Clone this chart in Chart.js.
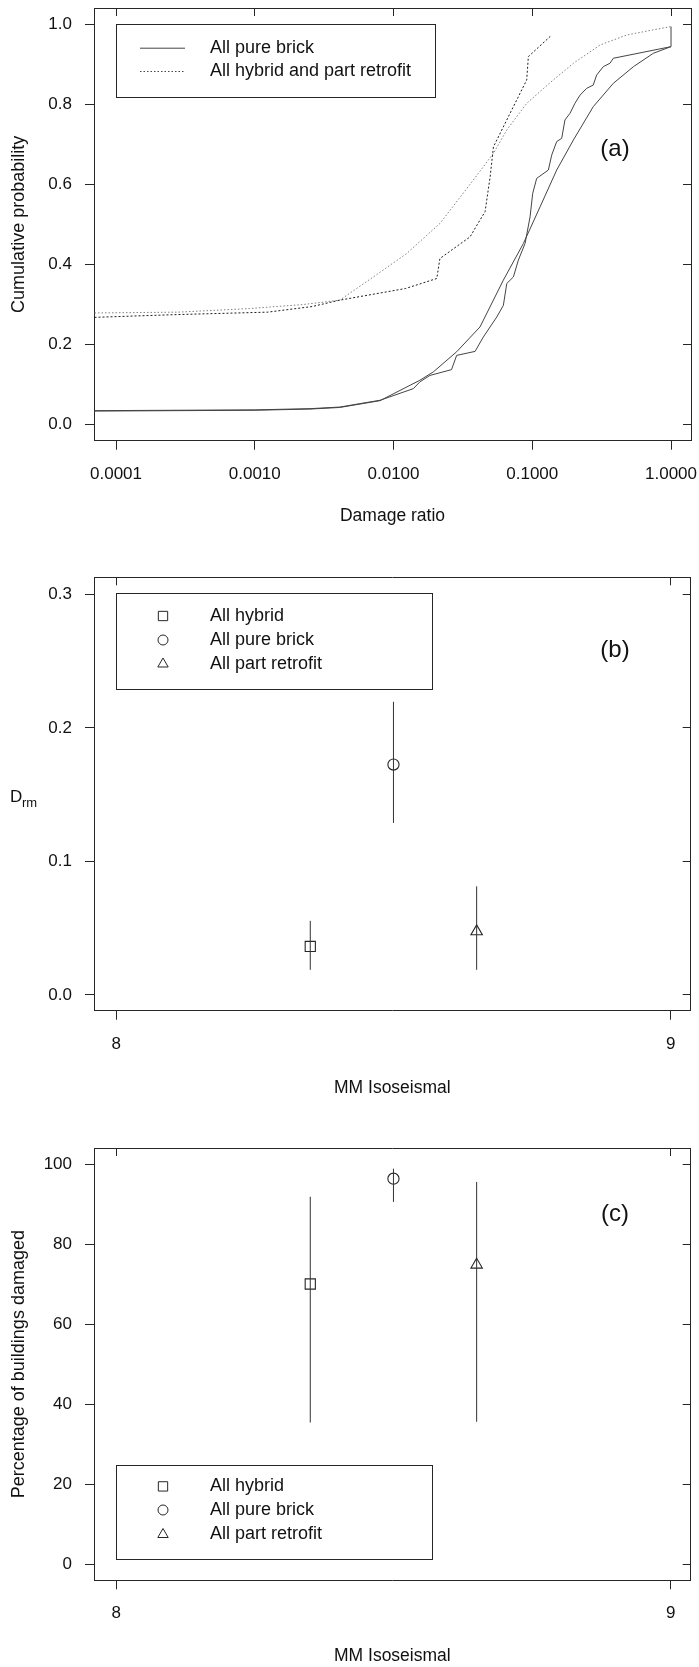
<!DOCTYPE html>
<html>
<head>
<meta charset="utf-8">
<script src="https://cdn.jsdelivr.net/npm/chart.js@4.4.1/dist/chart.umd.min.js"></script>
<style>
  html, body { margin: 0; padding: 0; background: #fff; }
  #page { position: relative; width: 699px; height: 1667px; overflow: hidden; }
  canvas { position: absolute; left: 0; }
</style>
</head>
<body>
<div id="page">
  <canvas id="panel-a" width="699" height="560" style="top:0;width:699px;height:560px"></canvas>
  <canvas id="panel-b" width="699" height="560" style="top:560px;width:699px;height:560px"></canvas>
  <canvas id="panel-c" width="699" height="547" style="top:1120px;width:699px;height:547px"></canvas>
</div>
<script>
// --- DATA: panel (a), cumulative distributions of damage ratio ---
const brickEmpX = [0.00007, 0.001, 0.0025, 0.0041, 0.008, 0.0139, 0.0155, 0.0183, 0.0262, 0.0285,
  0.0387, 0.0444, 0.0555, 0.0619, 0.0655, 0.0731, 0.0794, 0.0887, 0.0964, 0.1007, 0.1076, 0.1306,
  0.138, 0.150, 0.163, 0.172, 0.187, 0.203, 0.221, 0.247, 0.275, 0.291, 0.325, 0.363, 0.384, 1.0, 1.0];
const brickEmpY = [0.035, 0.037, 0.040, 0.044, 0.061, 0.090, 0.107, 0.123, 0.1375, 0.173,
  0.183, 0.219, 0.269, 0.298, 0.3525, 0.369, 0.411, 0.4525, 0.519, 0.5775, 0.615, 0.636,
  0.673, 0.707, 0.715, 0.761, 0.7775, 0.8025, 0.823, 0.840, 0.848, 0.873, 0.894, 0.9025, 0.915, 0.944, 0.994];

const brickFitX = [0.00007, 0.001, 0.0025, 0.0041, 0.008, 0.0155, 0.0194, 0.0285, 0.042, 0.0619,
  0.0863, 0.1138, 0.150, 0.198, 0.275, 0.384, 0.536, 0.746, 1.0];
const brickFitY = [0.034, 0.036, 0.039, 0.043, 0.060, 0.111, 0.132, 0.182, 0.244, 0.361,
  0.4525, 0.544, 0.636, 0.711, 0.794, 0.8525, 0.894, 0.9275, 0.944];

const hybridEmpX = [0.00007, 0.00028, 0.00124, 0.00259, 0.0041, 0.0122, 0.0205, 0.0216, 0.0356,
  0.042, 0.0457, 0.0497, 0.0525, 0.0912, 0.0937, 0.138];
const hybridEmpY = [0.268, 0.275, 0.281, 0.295, 0.311, 0.340, 0.365, 0.415, 0.469,
  0.511, 0.532, 0.619, 0.694, 0.861, 0.919, 0.973];

const hybridFitX = [0.00007, 0.00028, 0.00092, 0.00223, 0.0041, 0.00716, 0.01245, 0.0216, 0.0376,
  0.0525, 0.0655, 0.0912, 0.1419, 0.198, 0.3076, 0.4786, 0.746, 1.0];
const hybridFitY = [0.279, 0.281, 0.290, 0.300, 0.311, 0.369, 0.4275, 0.5025, 0.611,
  0.6775, 0.736, 0.8025, 0.861, 0.9025, 0.948, 0.973, 0.986, 0.994];

const damageTicks = [0.0001, 0.001, 0.01, 0.1, 1];
const probTicks = [0, 0.2, 0.4, 0.6, 0.8, 1.0];

// --- DATA: panels (b) and (c), by building group ---
const groups = ["All hybrid", "All pure brick", "All part retrofit"];
const mmX = [8.35, 8.5, 8.65];
const drm = [0.0363, 0.1725, 0.0475];
const drmLo = [0.0188, 0.1288, 0.0188];
const drmHi = [0.0555, 0.2195, 0.0813];
const pctDamaged = [70.1, 96.4, 74.9];
const pctLo = [35.5, 90.6, 35.7];
const pctHi = [91.9, 98.9, 95.6];

const mmTicks = [8, 9];
const drmTicks = [0, 0.1, 0.2, 0.3];
const pctTicks = [0, 20, 40, 60, 80, 100];

// --- STYLE ---
const INK = "#262626";
const TEXT = "#111";
const FONT = '"Liberation Sans", Arial, Helvetica, sans-serif';
Chart.defaults.font.family = FONT;
Chart.defaults.color = TEXT;

const markerStyles = ["rect", "circle", "triangle"];
const markerSizes = [7.2, 5.6, 6.6];

// --- AXIS HELPERS ---
function setTicks(list) {
  return (s) => { s.ticks = list.map((v) => ({ value: v })); };
}

function bottomAxis(type, min, max, ticks, fmt, title, titlePad, height) {
  return {
    type, position: "bottom", min, max,
    afterBuildTicks: setTicks(ticks),
    afterFit: (s) => { s.height = height; s.paddingLeft = 0; s.paddingRight = 0; },
    ticks: { autoSkip: false, maxRotation: 0, padding: 14, color: TEXT, font: { size: 17 }, callback: (v) => fmt(v) },
    grid: { drawOnChartArea: false, tickLength: 9, color: INK },
    border: { color: INK },
    title: { display: true, text: title, color: TEXT, font: { size: 17.5 }, padding: { top: 0, bottom: titlePad } },
  };
}

function leftAxis(min, max, ticks, fmt, title) {
  return {
    type: "linear", position: "left", min, max,
    afterBuildTicks: setTicks(ticks),
    afterFit: (s) => { s.width = 94; s.paddingTop = 0; s.paddingBottom = 0; },
    ticks: { autoSkip: false, padding: 13, color: TEXT, font: { size: 17 }, callback: (v) => fmt(v) },
    grid: { drawOnChartArea: false, tickLength: 9, color: INK },
    border: { color: INK },
    title: title
      ? { display: true, text: title, color: TEXT, font: { size: 18 }, padding: { top: 8, bottom: 0 } }
      : { display: false },
  };
}

// inward ticks on top and right, like the original frame
function topAxis(type, min, max, ticks) {
  return {
    type, axis: "x", position: "top", min, max,
    afterBuildTicks: setTicks(ticks),
    afterFit: (s) => { s.height = 0; s.paddingLeft = 0; s.paddingRight = 0; },
    ticks: { display: false },
    grid: { drawOnChartArea: false, tickLength: -8, color: INK },
    border: { color: INK },
  };
}

function rightAxis(min, max, ticks) {
  return {
    type: "linear", axis: "y", position: "right", min, max,
    afterBuildTicks: setTicks(ticks),
    afterFit: (s) => { s.width = 0; s.paddingTop = 0; s.paddingBottom = 0; },
    ticks: { display: false },
    grid: { drawOnChartArea: false, tickLength: -8, color: INK },
    border: { color: INK },
  };
}

// legend box, panel letter and odd labels drawn on top of the chart
function panelText(opts) {
  return {
    id: "panelText",
    afterDraw(chart) {
      const ctx = chart.ctx;
      ctx.save();
      const b = opts.legendBox;
      ctx.strokeStyle = INK;
      ctx.lineWidth = 1;
      ctx.setLineDash([]);
      ctx.strokeRect(Math.round(b.x1) + 0.5, Math.round(b.y1) + 0.5, Math.round(b.x2 - b.x1), Math.round(b.y2 - b.y1));
      ctx.font = "18px " + FONT;
      ctx.fillStyle = TEXT;
      ctx.textBaseline = "middle";
      ctx.textAlign = "left";
      opts.entries.forEach((e, i) => {
        const y = opts.entryY[i];
        if (e.marker) {
          ctx.strokeStyle = INK;
          ctx.fillStyle = "rgba(0,0,0,0)";
          ctx.lineWidth = 1;
          Chart.helpers.drawPoint(ctx, { pointStyle: e.marker, radius: e.size, rotation: 0, borderWidth: 1 }, opts.symbolX, y);
        } else {
          ctx.strokeStyle = e.color;
          ctx.lineWidth = 1;
          ctx.setLineDash(e.dash);
          ctx.beginPath();
          ctx.moveTo(opts.symbolX - 22, y + 0.5);
          ctx.lineTo(opts.symbolX + 23, y + 0.5);
          ctx.stroke();
          ctx.setLineDash([]);
        }
        ctx.fillStyle = TEXT;
        ctx.fillText(e.label, opts.textX, y);
      });
      ctx.font = "24px " + FONT;
      ctx.textAlign = "center";
      ctx.fillText(opts.letter, opts.letterX, opts.letterY);
      if (opts.drawYLabel) opts.drawYLabel(ctx);
      ctx.restore();
    },
  };
}

function xy(xs, ys) {
  return xs.map((x, i) => ({ x, y: ys[i] }));
}

function lineSet(label, xs, ys, color, dash) {
  return {
    label, data: xy(xs, ys), showLine: true, pointRadius: 0,
    borderColor: color, borderWidth: 1, borderDash: dash, tension: 0,
  };
}

// --- PANEL (a) ---
const fmt4 = (v) => Number(v).toFixed(4);
const fmt1 = (v) => Number(v).toFixed(1);

new Chart(document.getElementById("panel-a"), {
  type: "scatter",
  data: {
    datasets: [
      lineSet("All pure brick", brickEmpX, brickEmpY, "#444", []),
      lineSet("All pure brick (fit)", brickFitX, brickFitY, "#444", []),
      lineSet("All hybrid and part retrofit", hybridEmpX, hybridEmpY, "#1e1e1e", [2, 2]),
      lineSet("All hybrid and part retrofit (fit)", hybridFitX, hybridFitY, "#808080", [1.5, 2]),
    ],
  },
  options: {
    responsive: false, animation: false, devicePixelRatio: 1,
    layout: { padding: { top: 8, right: 8, bottom: 0, left: 0 } },
    plugins: { legend: { display: false }, tooltip: { enabled: false } },
    scales: {
      x: bottomAxis("logarithmic", 6.94e-5, 1.393, damageTicks, fmt4, "Damage ratio", 33, 119.3),
      y: leftAxis(-0.04, 1.0405, probTicks, fmt1, "Cumulative probability"),
      xTop: topAxis("logarithmic", 6.94e-5, 1.393, damageTicks),
      yRight: rightAxis(-0.04, 1.0405, probTicks),
    },
  },
  plugins: [panelText({
    legendBox: { x1: 116, y1: 24, x2: 435, y2: 97 },
    entries: [
      { label: "All pure brick", color: "#444", dash: [] },
      { label: "All hybrid and part retrofit", color: "#444", dash: [1.5, 2] },
    ],
    entryY: [47.7, 71],
    symbolX: 162, textX: 210,
    letter: "(a)", letterX: 615, letterY: 149,
  })],
});

// --- PANELS (b) and (c) ---
function groupDatasets(vals, lo, hi) {
  const sets = mmX.map((x, i) => ({
    label: groups[i] + " range",
    data: [{ x, y: lo[i] }, { x, y: hi[i] }],
    showLine: true, pointRadius: 0, borderColor: "#333", borderWidth: 1,
  }));
  sets.push({
    label: "groups",
    data: xy(mmX, vals),
    showLine: false,
    pointStyle: markerStyles,
    pointRadius: markerSizes,
    pointBorderColor: "#262626",
    pointBackgroundColor: "rgba(0,0,0,0)",
    pointBorderWidth: 1.1,
  });
  return sets;
}

const groupEntries = groups.map((g, i) => ({ label: g, marker: markerStyles[i], size: markerSizes[i] - 0.6 }));
const fmtInt = (v) => String(Math.round(v));

new Chart(document.getElementById("panel-b"), {
  type: "scatter",
  data: { datasets: groupDatasets(drm, drmLo, drmHi) },
  options: {
    responsive: false, animation: false, devicePixelRatio: 1,
    layout: { padding: { top: 17.3, right: 8, bottom: 0, left: 0 } },
    plugins: { legend: { display: false }, tooltip: { enabled: false } },
    scales: {
      x: bottomAxis("linear", 7.96, 9.036, mmTicks, fmtInt, "MM Isoseismal", 21.8, 109.3),
      y: leftAxis(-0.0118, 0.3127, drmTicks, fmt1, null),
      xTop: topAxis("linear", 7.96, 9.036, mmTicks),
      yRight: rightAxis(-0.0118, 0.3127, drmTicks),
    },
  },
  plugins: [panelText({
    legendBox: { x1: 116, y1: 33, x2: 432, y2: 129 },
    entries: groupEntries,
    entryY: [56, 80, 104],
    symbolX: 163, textX: 210,
    letter: "(b)", letterX: 615, letterY: 90,
    drawYLabel(ctx) {
      ctx.textAlign = "left";
      ctx.textBaseline = "alphabetic";
      ctx.font = "17px " + FONT;
      ctx.fillText("D", 10, 241.5);
      ctx.font = "13px " + FONT;
      ctx.fillText("rm", 22, 246.5);
    },
  })],
});

new Chart(document.getElementById("panel-c"), {
  type: "scatter",
  data: { datasets: groupDatasets(pctDamaged, pctLo, pctHi) },
  options: {
    responsive: false, animation: false, devicePixelRatio: 1,
    layout: { padding: { top: 28, right: 8, bottom: 0, left: 0 } },
    plugins: { legend: { display: false }, tooltip: { enabled: false } },
    scales: {
      x: bottomAxis("linear", 7.96, 9.036, mmTicks, fmtInt, "MM Isoseismal", 0, 86.7),
      y: leftAxis(-3.9, 104.07, pctTicks, fmtInt, "Percentage of buildings damaged"),
      xTop: topAxis("linear", 7.96, 9.036, mmTicks),
      yRight: rightAxis(-3.9, 104.07, pctTicks),
    },
  },
  plugins: [panelText({
    legendBox: { x1: 116, y1: 345, x2: 432, y2: 439 },
    entries: groupEntries,
    entryY: [366.4, 390, 414.5],
    symbolX: 163, textX: 210,
    letter: "(c)", letterX: 615, letterY: 94,
  })],
});
</script>
</body>
</html>
